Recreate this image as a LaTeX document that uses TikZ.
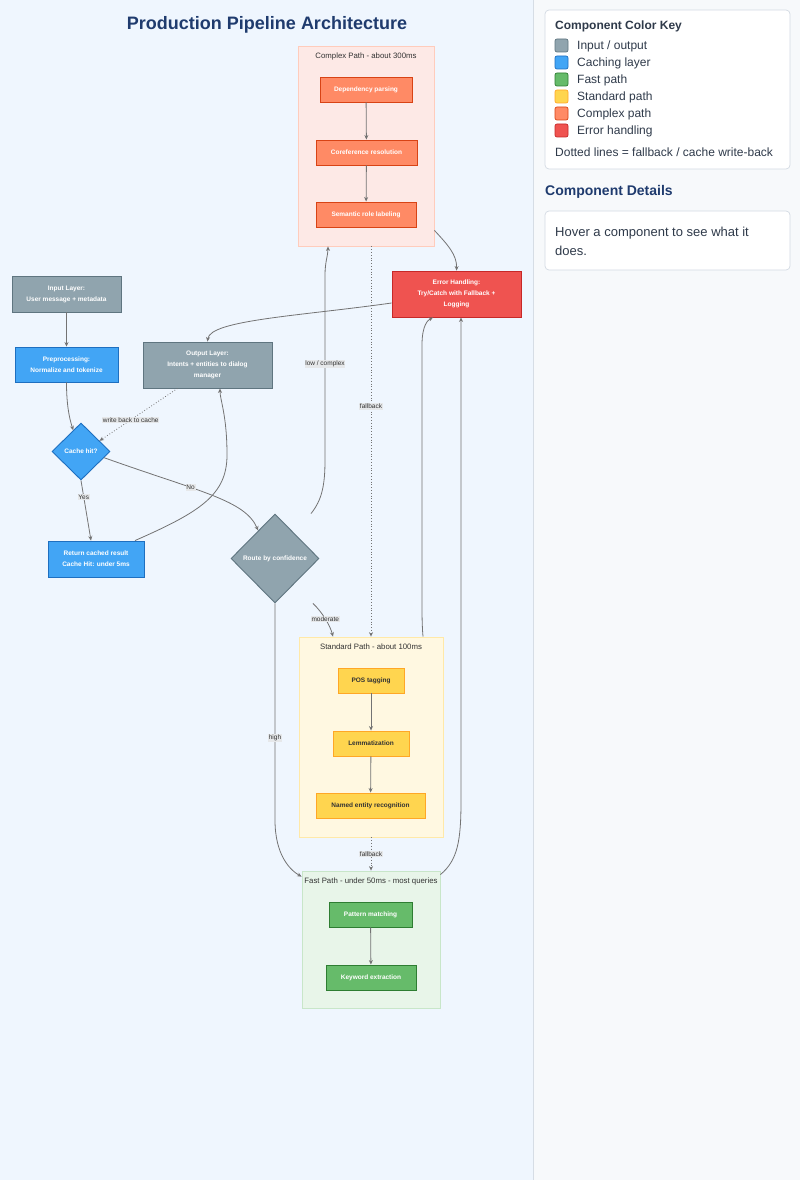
\documentclass[tikz,border=0pt]{standalone}
\usepackage{fontspec}
\setmainfont{Liberation Sans}
\usetikzlibrary{shapes.geometric,arrows.meta,positioning}

\definecolor{leftBg}{HTML}{EFF6FE}
\definecolor{rightBg}{HTML}{F7F9FB}
\definecolor{panelLine}{HTML}{D6DDE5}
\definecolor{titleBlue}{HTML}{1F3B6E}
\definecolor{keyText}{HTML}{2F3A4A}
\definecolor{keyBorder}{HTML}{D3DAE3}
\definecolor{ioFill}{HTML}{90A4AE}
\definecolor{ioLine}{HTML}{5F7580}
\definecolor{cacheFill}{HTML}{42A5F5}
\definecolor{cacheLine}{HTML}{1E6FC0}
\definecolor{fastFill}{HTML}{66BB6A}
\definecolor{fastLine}{HTML}{2E7D32}
\definecolor{stdFill}{HTML}{FFD54F}
\definecolor{stdLine}{HTML}{FFA726}
\definecolor{cpxFill}{HTML}{FF8A65}
\definecolor{cpxLine}{HTML}{D84315}
\definecolor{errFill}{HTML}{EF5350}
\definecolor{errLine}{HTML}{C62828}
\definecolor{cpxBg}{HTML}{FDE9E6}
\definecolor{cpxBorder}{HTML}{FFCCBC}
\definecolor{stdBg}{HTML}{FFF8E1}
\definecolor{stdBorder}{HTML}{FFE9A8}
\definecolor{fastBg}{HTML}{E8F5E9}
\definecolor{fastBorder}{HTML}{C8E6C9}
\definecolor{edgeGray}{HTML}{737373}
\definecolor{labelBg}{HTML}{E6E8EA}
\definecolor{darkText}{HTML}{333333}

\newcommand{\pipefont}{\bfseries\fontsize{6.5}{11}\selectfont}
\newcommand{\clusterfont}{\fontsize{7.8}{9}\selectfont}
\newcommand{\lblfont}{\fontsize{6.5}{7}\selectfont}

\tikzset{
  box/.style={rectangle, line width=0.9pt, inner sep=0pt, align=center,
    font=\pipefont, text=white},
  iobox/.style={box, fill=ioFill, draw=ioLine},
  cachebox/.style={box, fill=cacheFill, draw=cacheLine},
  fastbox/.style={box, fill=fastFill, draw=fastLine, minimum height=25pt},
  stdbox/.style={box, fill=stdFill, draw=stdLine, text=darkText, minimum height=25pt},
  cpxbox/.style={box, fill=cpxFill, draw=cpxLine, minimum height=25pt},
  errbox/.style={box, fill=errFill, draw=errLine},
  decide/.style={diamond, aspect=1, line width=0.9pt, inner sep=0pt,
    font=\pipefont, text=white},
  cluster/.style={rectangle, line width=0.8pt, inner sep=0pt},
  ctitle/.style={font=\clusterfont, text=darkText, inner sep=0pt},
  edge/.style={draw=edgeGray, line width=0.8pt,
    -{Stealth[length=4.5pt,width=4pt]}},
  fallback/.style={edge, dotted},
  elabel/.style={fill=labelBg, font=\lblfont, text=darkText, inner sep=0.8pt},
  keybox/.style={draw=keyBorder, fill=white, rounded corners=4pt, line width=0.7pt},
  swatch/.style={rectangle, rounded corners=2pt, line width=0.7pt,
    minimum size=13pt, inner sep=0pt},
  keyitem/.style={font=\fontsize{12}{14}\selectfont, text=keyText, inner sep=0pt},
}

\begin{document}
\begin{tikzpicture}[x=1pt,y=-1pt]
  % Page and side panel
  \useasboundingbox (0,0) rectangle (800,1180);
  \fill[leftBg] (0,0) rectangle (533,1180);
  \fill[rightBg] (533,0) rectangle (800,1180);
  \draw[panelLine] (533,0) -- (533,1180);

  % Title
  \node[font=\bfseries\fontsize{18}{20}\selectfont, text=titleBlue] (title)
    at (267,25) {Production Pipeline Architecture};

  % Path clusters
  \node[cluster, fill=cpxBg, draw=cpxBorder, minimum width=136pt,
    minimum height=200pt] (cpx) at (366,146) {};
  \node[ctitle, below=7pt of cpx.north] (cpxtitle) {Complex Path - about 300ms};
  \node[cluster, fill=stdBg, draw=stdBorder, minimum width=144pt,
    minimum height=200pt] (std) at (371,737) {};
  \node[ctitle, below=7pt of std.north] (stdtitle) {Standard Path - about 100ms};
  \node[cluster, fill=fastBg, draw=fastBorder, minimum width=138pt,
    minimum height=137pt] (fst) at (371,939.5) {};
  \node[ctitle, below=7pt of fst.north] (fsttitle) {Fast Path - under 50ms - most queries};

  % Entry, cache and routing
  \node[iobox, minimum width=109pt, minimum height=36pt] (inp) at (66.5,294)
    {Input Layer:\\User message + metadata};
  \node[cachebox, minimum width=103pt, minimum height=35pt] (pre) at (66.5,364.5)
    {Preprocessing:\\Normalize and tokenize};
  \node[iobox, minimum width=129pt, minimum height=46pt] (out) at (207.5,365)
    {Output Layer:\\Intents + entities to dialog\\manager};
  \node[decide, fill=cacheFill, draw=cacheLine, minimum width=58pt,
    minimum height=57pt] (cache) at (81,451.5) {Cache hit?};
  \node[cachebox, minimum width=96pt, minimum height=36pt] (ret) at (96,559)
    {Return cached result\\Cache Hit: under 5ms};
  \node[decide, fill=ioFill, draw=ioLine, minimum width=88pt,
    minimum height=89pt] (route) at (275,558.5) {Route by confidence};
  \node[errbox, minimum width=129pt, minimum height=46pt] (err) at (456.5,294)
    {Error Handling:\\Try/Catch with Fallback +\\Logging};

  % Complex path steps
  \node[cpxbox, minimum width=92pt] (dep) at (366,89.5) {Dependency parsing};
  \node[cpxbox, minimum width=101pt] (coref) at (366.5,152.5) {Coreference resolution};
  \node[cpxbox, minimum width=100pt] (srl) at (366,214.5) {Semantic role labeling};

  % Standard path steps
  \node[stdbox, minimum width=66pt] (pos) at (371,680.5) {POS tagging};
  \node[stdbox, minimum width=76pt] (lem) at (371,743.5) {Lemmatization};
  \node[stdbox, minimum width=109pt] (ner) at (370.5,805.5) {Named entity recognition};

  % Fast path steps
  \node[fastbox, minimum width=83pt] (pat) at (370.5,914.5) {Pattern matching};
  \node[fastbox, minimum width=90pt] (kw) at (371,977.5) {Keyword extraction};

  % Steps inside clusters
  \draw[edge] (dep) -- (coref);
  \draw[edge] (coref) -- (srl);
  \draw[edge] (pos) -- (lem);
  \draw[edge] (lem) -- (ner);
  \draw[edge] (pat) -- (kw);

  % Main flow
  \draw[edge] (inp) -- (pre);
  \draw[edge] (pre.south) .. controls +(0,22) and +(-4,-12) .. (cache.110);
  \draw[fallback] ([xshift=-30pt]out.south) -- node[elabel, pos=0.6] {write back to cache} (cache.30);
  \draw[edge] (cache.south) -- node[elabel, pos=0.28] {Yes} ([xshift=-5pt]ret.north);
  \draw[edge] (cache.-15) .. controls (200,492) and (245,500) .. node[elabel, pos=0.37] {No} (route.121);
  \draw[edge] ([xshift=39pt]ret.north) .. controls (200,512) and (227,495) .. (227,455)
    .. controls (227,415) and (220,400) .. ([xshift=12.5pt]out.south);

  % Routing to the three paths
  \draw[edge] ([xshift=36pt]route.north) .. controls (322,500) and (325,485) .. (325,460)
    -- node[elabel, pos=0.52] {low / complex} (325,275)
    .. controls (325,262) and (328,255) .. ([xshift=-38pt]cpx.south);
  \draw[edge] ([xshift=38pt]route.south) .. controls (322,612) and (330,625) ..
    node[elabel, pos=0.5] {moderate} ([xshift=-38pt]std.north);
  \draw[edge] (route.south) -- node[elabel, pos=0.62] {high} (275,820)
    .. controls (275,855) and (290,870) .. ([yshift=-6pt]fst.north west);

  % Fallbacks between paths
  \draw[fallback] ([xshift=5pt]cpx.south) -- node[elabel, pos=0.41] {fallback} (std.north);
  \draw[fallback] (std.south) -- node[elabel, pos=0.5] {fallback} (fst.north);

  % Error handling
  \draw[edge] ([yshift=16pt]cpx.south east) .. controls (448,245) and (457,255) .. (err.north);
  \draw[edge] ([xshift=52pt]std.north) .. controls (422,625) and (422,615) .. (422,600)
    -- (422,345) .. controls (422,325) and (428,320) .. ([xshift=-23.5pt]err.south);
  \draw[edge] ([yshift=-4pt]fst.north east) .. controls (458,860) and (461,840) .. (461,800)
    -- ([xshift=4.5pt]err.south);
  \draw[edge] ([yshift=-9pt]err.west) .. controls (300,316) and (210,320) .. (out.north);

  % Colour key
  \node[keybox, minimum width=245pt, minimum height=159pt] (keybox) at (667.5,89.5) {};
  \node[keyitem, font=\bfseries\fontsize{12}{14}\selectfont, anchor=west] (keyhead)
    at (555,26.5) {Component Color Key};
  \foreach \sf/\sd/\lab [count=\i from 0] in {ioFill/ioLine/{Input / output},
      cacheFill/cacheLine/{Caching layer}, fastFill/fastLine/{Fast path},
      stdFill/stdLine/{Standard path}, cpxFill/cpxLine/{Complex path},
      errFill/errLine/{Error handling}} {
    \node[swatch, fill=\sf, draw=\sd] (sw\i) at (561.5,{45.5+17*\i}) {};
    \node[keyitem, anchor=west] (kl\i) at (577,{46.5+17*\i}) {\lab};
  }
  \node[keyitem, anchor=west] (keynote) at (555,152)
    {Dotted lines = fallback / cache write-back};

  % Details panel
  \node[font=\bfseries\fontsize{14}{16}\selectfont, text=titleBlue, inner sep=0pt,
    anchor=west] (dethead) at (545,191.5) {Component Details};
  \node[keybox, minimum width=245pt, minimum height=59pt] (detbox) at (667.5,240.5) {};
  \node[font=\fontsize{13}{19}\selectfont, text=keyText, inner sep=0pt, align=left,
    anchor=west] (dettext) at (555,241.5) {Hover a component to see what it\\does.};
\end{tikzpicture}
\end{document}
